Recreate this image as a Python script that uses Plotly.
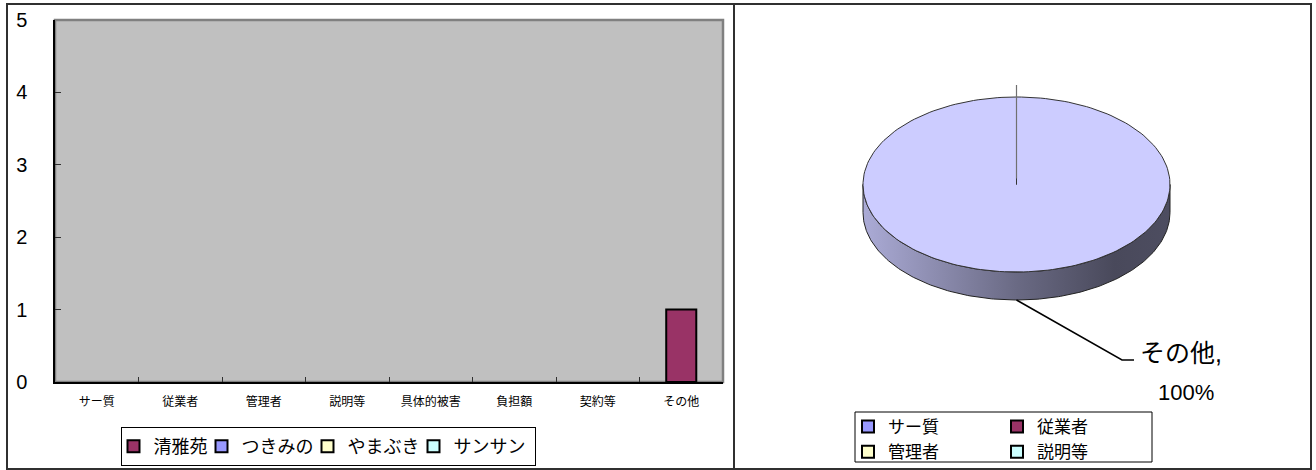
import numpy as np
import plotly.graph_objects as go

W, H = 1316, 470

# ---------------- data ----------------
categories = ["サー質", "従業者", "管理者", "説明等", "具体的被害", "負担額", "契約等", "その他"]
series_names = ["清雅苑", "つきみの", "やまぶき", "サンサン"]
seigaen = [0, 0, 0, 0, 0, 0, 0, 1]
tsukimino = [0, 0, 0, 0, 0, 0, 0, 0]
yamabuki = [0, 0, 0, 0, 0, 0, 0, 0]
sansan = [0, 0, 0, 0, 0, 0, 0, 0]
series_colors = ["#993366", "#9999FF", "#FFFFCC", "#CCFFFF"]
y_tick_values = [0, 1, 2, 3, 4, 5]

pie_labels = ["サー質", "従業者", "管理者", "説明等", "具体的被害", "負担額", "契約等", "その他"]
pie_values = [0, 0, 0, 0, 0, 0, 0, 1]
pie_colors = ["#9999FF", "#993366", "#FFFFCC", "#CCFFFF", "#660066", "#FF8080", "#0066CC", "#CCCCFF"]
pie_legend_col1 = ["サー質", "管理者"]
pie_legend_col2 = ["従業者", "説明等"]

FONT = "Liberation Sans, Noto Sans CJK JP, sans-serif"

# ---------------- layout geometry (pixels) ----------------
PL, PR, PT, PB = 55, 723, 20, 382          # bar plot area
RX0, RX1 = 736, 1310                        # right panel
CX, CY, RXE, RYE, DEPTH = 1016.5, 184.5, 153.5, 87.5, 28


def px(x):
    return x / W


def py(y):
    return 1 - y / H


fig = go.Figure()

# ---------------- bar chart ----------------
all_series = [seigaen, tsukimino, yamabuki, sansan]
legend_widths = [51, 69, 69, 76]
for name, vals, col, lw in zip(series_names, all_series, series_colors, legend_widths):
    fig.add_trace(go.Bar(
        x=categories, y=[v if v else None for v in vals], name=name, width=0.36,
        marker=dict(color=col, line=dict(color="black", width=2)),
        legend="legend", legendwidth=lw, hoverinfo="x+y+name",
        xaxis="x", yaxis="y",
    ))

# ---------------- 3D-look pie ----------------
def rim(a0, a1, n=200, dy=0.0):
    t = np.radians(np.linspace(a0, a1, n))
    return CX + RXE * np.sin(t), CY - RYE * np.cos(t) + dy


def shade(hexcol, f):
    h = hexcol.lstrip("#")
    r, g, b = (int(h[i:i + 2], 16) for i in (0, 2, 4))
    return "rgb(%d,%d,%d)" % (r * f, g * f, b * f)


total = float(sum(pie_values))
angles = np.concatenate([[0], np.cumsum(pie_values) / total * 360.0])

# side walls (front half only)
for i, (lab, v, col) in enumerate(zip(pie_labels, pie_values, pie_colors)):
    a0, a1 = max(angles[i], 90.0), min(angles[i + 1], 270.0)
    if v <= 0 or a1 <= a0:
        continue
    xt, yt = rim(a0, a1)
    xb, yb = rim(a1, a0, dy=DEPTH)
    fig.add_trace(go.Scatter(
        x=np.concatenate([xt, xb, xt[:1]]), y=np.concatenate([yt, yb, yt[:1]]),
        mode="lines", fill="toself",
        fillgradient=dict(type="horizontal", colorscale=[
            [0, shade(col, 0.84)], [0.5, shade(col, 0.52)],
            [0.82, shade(col, 0.36)], [1, shade(col, 0.38)]]),
        line=dict(color="#222222", width=1),
        showlegend=False, hoverinfo="skip", xaxis="x2", yaxis="y2",
    ))

# top faces
for i, (lab, v, col) in enumerate(zip(pie_labels, pie_values, pie_colors)):
    xr, yr = rim(angles[i], angles[i + 1])
    fig.add_trace(go.Scatter(
        x=np.concatenate([[CX], xr, [CX]]), y=np.concatenate([[CY], yr, [CY]]),
        mode="lines", fill="toself", fillcolor=col,
        line=dict(color="#333333", width=1),
        showlegend=False, name=lab, hoverinfo="name", xaxis="x2", yaxis="y2",
    ))

# zero-value slice edge (radial line at start angle)
for i, v in enumerate(pie_values):
    if v == 0:
        t = np.radians(angles[i])
        fig.add_trace(go.Scatter(
            x=[CX, CX + RXE * 1.0 * np.sin(t)],
            y=[CY - 6, CY - (RYE + 12) * np.cos(t)],
            mode="lines", line=dict(color="#707070", width=1.2),
            showlegend=False, hoverinfo="skip", xaxis="x2", yaxis="y2",
        ))
        break

# labels with leader line
for i, (lab, v) in enumerate(zip(pie_labels, pie_values)):
    if v <= 0:
        continue
    mid = np.radians((angles[i] + angles[i + 1]) / 2)
    sx = CX + RXE * np.sin(mid)
    sy = CY - RYE * np.cos(mid) + DEPTH
    fig.add_trace(go.Scatter(
        x=[sx, 1122, 1134], y=[sy, 360, 360], mode="lines",
        line=dict(color="black", width=1.5),
        showlegend=False, hoverinfo="skip", xaxis="x2", yaxis="y2",
    ))
    fig.add_annotation(x=1138, y=353, xref="x2", yref="y2", text=f"{lab},",
                       showarrow=False, xanchor="left", yanchor="middle",
                       font=dict(family=FONT, size=25, color="black"))
    fig.add_annotation(x=1186, y=392, xref="x2", yref="y2",
                       text=f"{v / total * 100:.0f}%",
                       showarrow=False, xanchor="center", yanchor="middle",
                       font=dict(family=FONT, size=22, color="black"))

# pie legend entries
for lab, col in zip(pie_labels, pie_colors):
    if lab in pie_legend_col1:
        leg = "legend2"
    elif lab in pie_legend_col2:
        leg = "legend3"
    else:
        continue
    fig.add_trace(go.Bar(
        x=[None], y=[None], name=lab, legend=leg,
        marker=dict(color=col, line=dict(color="black", width=2)),
        xaxis="x2", yaxis="y2", hoverinfo="skip",
    ))

# ---------------- layout ----------------
shapes = [
    # gray plot background with gray border
    dict(type="rect", xref="x domain", yref="y domain", x0=0, x1=1, y0=0, y1=1,
         fillcolor="#C0C0C0", line=dict(color="#808080", width=2.5), layer="below"),
    # outer frame
    dict(type="rect", xref="paper", yref="paper", x0=px(7), x1=px(1311), y0=py(469), y1=py(4),
         line=dict(color="#303030", width=2), fillcolor="rgba(0,0,0,0)"),
    dict(type="line", xref="paper", yref="paper", x0=px(734), x1=px(734), y0=py(469), y1=py(4),
         line=dict(color="#303030", width=2)),
    # pie legend box
    dict(type="rect", xref="paper", yref="paper", x0=px(855), x1=px(1152), y0=py(462), y1=py(412),
         line=dict(color="black", width=1), fillcolor="rgba(0,0,0,0)"),
]

fig.update_layout(
    width=W, height=H,
    margin=dict(l=0, r=0, t=0, b=0, autoexpand=False),
    paper_bgcolor="white", plot_bgcolor="rgba(0,0,0,0)",
    font=dict(family=FONT, color="black"),
    barmode="overlay",
    shapes=shapes,
    xaxis=dict(domain=[px(PL), px(PR)], type="category", categoryarray=categories,
               categoryorder="array", range=[-0.5, 7.5],
               showline=True, linecolor="black", linewidth=1.5,
               ticks="inside", tickson="boundaries", ticklen=5, tickcolor="#303030",
               showgrid=False, tickfont=dict(size=12), ticklabelstandoff=8, fixedrange=True,
               automargin=False),
    yaxis=dict(domain=[py(PB), py(PT)], range=[0, 5], tickvals=y_tick_values,
               showline=True, linecolor="black", linewidth=1.5,
               ticks="inside", ticklen=6, tickcolor="#303030",
               showgrid=False, zeroline=False, tickfont=dict(size=20),
               ticklabelstandoff=22, fixedrange=True, automargin=False),
    xaxis2=dict(domain=[px(RX0), px(RX1)], range=[RX0, RX1], visible=False, fixedrange=True),
    yaxis2=dict(domain=[0, 1], range=[H, 0], visible=False, fixedrange=True, anchor="x2"),
    legend=dict(orientation="h", x=px(328), y=py(427), xanchor="center", yanchor="top",
                bordercolor="black", borderwidth=1, bgcolor="white", indentation=-8,
                font=dict(size=18), itemclick=False, itemdoubleclick=False),
    legend2=dict(orientation="v", x=px(848), y=py(409), xanchor="left", yanchor="top",
                 borderwidth=0, bgcolor="rgba(0,0,0,0)", font=dict(size=17),
                 tracegroupgap=0, itemclick=False, itemdoubleclick=False),
    legend3=dict(orientation="v", x=px(997), y=py(409), xanchor="left", yanchor="top",
                 borderwidth=0, bgcolor="rgba(0,0,0,0)", font=dict(size=17),
                 tracegroupgap=0, itemclick=False, itemdoubleclick=False),
)

fig.write_html("out.html", config={"displayModeBar": False},
               post_script="document.body.style.margin='0';document.body.style.overflow='hidden';")
